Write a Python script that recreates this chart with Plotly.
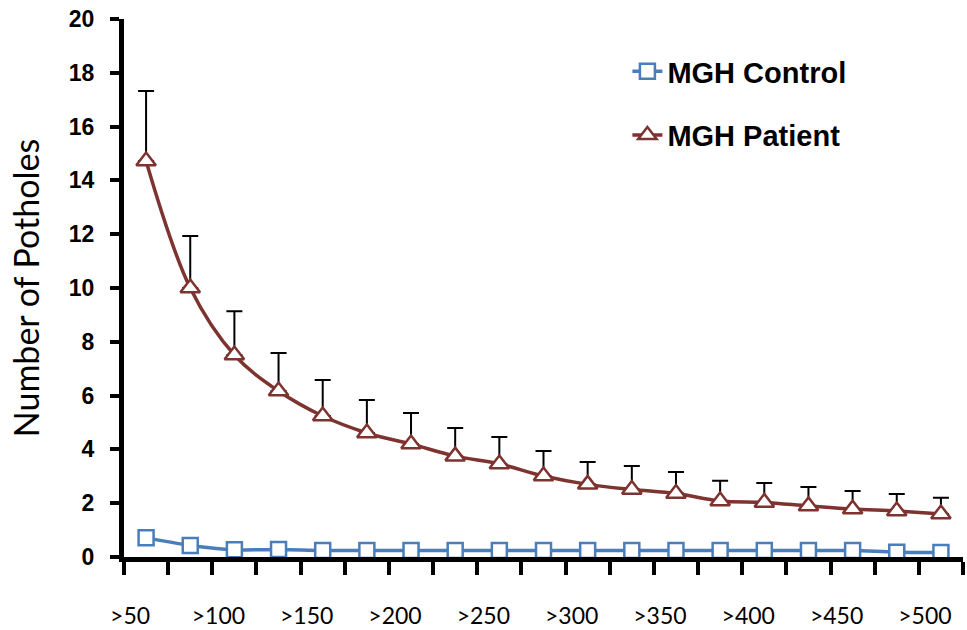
import plotly.graph_objects as go

categories = [">50", ">75", ">100", ">125", ">150", ">175", ">200", ">225", ">250", ">275",
              ">300", ">325", ">350", ">375", ">400", ">425", ">450", ">475", ">500"]
control = [0.72, 0.43, 0.27, 0.28, 0.24, 0.24, 0.24, 0.24, 0.24, 0.24,
           0.24, 0.24, 0.24, 0.24, 0.24, 0.24, 0.24, 0.18, 0.17]
patient = [14.72, 10.0, 7.51, 6.17, 5.24, 4.61, 4.2, 3.75, 3.46, 3.01,
           2.70, 2.51, 2.36, 2.08, 2.03, 1.90, 1.78, 1.71, 1.60]
patient_err = [2.6, 1.93, 1.63, 1.41, 1.34, 1.23, 1.15, 1.05, 1.0, 0.93,
               0.83, 0.87, 0.8, 0.75, 0.72, 0.7, 0.67, 0.63, 0.6]
y_ticks = [0, 2, 4, 6, 8, 10, 12, 14, 16, 18, 20]

xpos = list(range(len(categories)))
label_pos = xpos[::2]
label_text = categories[::2]
boundaries = [i - 0.5 for i in xpos] + [xpos[-1] + 0.5]

BLUE = "#4A7EBB"
RED = "#7D332F"

fig = go.Figure()
fig.add_trace(go.Scatter(
    x=xpos, y=control, name="MGH Control", legendgroup="c",
    mode="lines+markers", line=dict(color=BLUE, width=3.5, shape="spline"),
    marker=dict(symbol="square", size=15, color="white", line=dict(color=BLUE, width=2.5)),
))
fig.add_trace(go.Scatter(
    x=xpos, y=patient, name="MGH Patient", legendgroup="p",
    mode="lines+markers", line=dict(color=RED, width=3.5, shape="spline"),
    marker=dict(symbol="triangle-up", size=17, color="white", line=dict(color=RED, width=2.5)),
    error_y=dict(type="data", array=patient_err, arrayminus=[0] * len(patient_err),
                 symmetric=False, color="black", thickness=2, width=8),
))

fig.update_layout(
    width=967, height=630,
    margin=dict(l=124, r=4, t=19, b=73, autoexpand=False),
    paper_bgcolor="white", plot_bgcolor="white",
    showlegend=True,
    legend=dict(
        x=0.60, y=0.95, xanchor="left", yanchor="top",
        font=dict(family="Liberation Sans, Arial", size=29, color="black", weight="bold"),
        tracegroupgap=23, bgcolor="rgba(0,0,0,0)",
    ),
)
fig.update_xaxes(
    range=[-0.5, xpos[-1] + 0.5], automargin=False, tickangle=0,
    tickmode="array", tickvals=label_pos, ticktext=label_text,
    ticks="", ticklabelstandoff=34, ticklabelshift=-16,
    tickfont=dict(family="Lato", size=23, color="black"),
    showline=True, linecolor="black", linewidth=5,
    showgrid=False, zeroline=False,
    minor=dict(tickmode="array", tickvals=boundaries, ticks="outside",
               ticklen=13, tickwidth=4, tickcolor="black", showgrid=False),
)
fig.update_yaxes(
    range=[0, 20], tickmode="array", tickvals=y_ticks, automargin=False,
    ticks="outside", ticklen=9, tickwidth=4, tickcolor="black",
    tickfont=dict(family="Liberation Sans, Arial", size=23, color="black", weight="bold"),
    ticklabelstandoff=11,
    showline=True, linecolor="black", linewidth=5,
    showgrid=False, zeroline=False,
    title=dict(text="Number of Potholes", font=dict(family="Lato", size=34, color="black"),
               standoff=20),
)

fig.write_html("out.html")
